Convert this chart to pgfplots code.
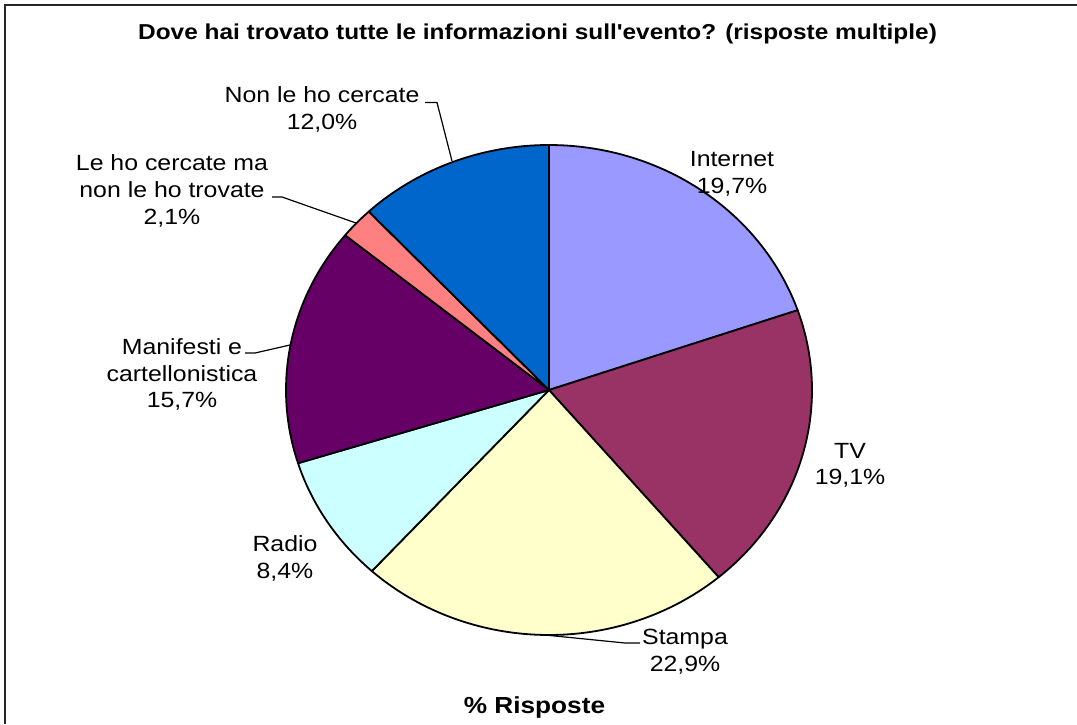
\documentclass[border=0pt]{standalone}
\usepackage{pgfplots}
\pgfplotsset{compat=1.18}
\usepackage{pgfplotstable}
\usepackage{fontspec}
\setmainfont{Liberation Sans}[FakeStretch=1.13, Ligatures=TeXOff]

\definecolor{cInternet}{HTML}{9999FF}
\definecolor{cTV}{HTML}{993366}
\definecolor{cStampa}{HTML}{FFFFCC}
\definecolor{cRadio}{HTML}{CCFFFF}
\definecolor{cManif}{HTML}{660066}
\definecolor{cCerc}{HTML}{FF8080}
\definecolor{cNon}{HTML}{0066CC}

\pgfplotstableread{
label value
Internet 19.7
TV 19.1
Stampa 22.9
Radio 8.4
Manifesti 15.7
CercateNonTrovate 2.1
NonCercate 12.0
}\piedata

\newcommand\slice[3]{%
  \addplot[draw=black, line width=0.9pt, line join=round, fill=#1,
    domain=#3:#2, samples=90, variable=\t]
    ({549+263*cos(t)},{390-245*sin(t)}) -- (axis cs:549,390) -- cycle;}

\newcommand\lbl[3]{\node[anchor=base, inner sep=0pt, font=\fontsize{11}{13}\selectfont] at (axis cs:#1,#2) {#3};}

\begin{document}%
\begin{tikzpicture}
\pgfplotstablegetelem{0}{value}\of\piedata \let\vA\pgfplotsretval
\pgfplotstablegetelem{1}{value}\of\piedata \let\vB\pgfplotsretval
\pgfplotstablegetelem{2}{value}\of\piedata \let\vC\pgfplotsretval
\pgfplotstablegetelem{3}{value}\of\piedata \let\vD\pgfplotsretval
\pgfplotstablegetelem{4}{value}\of\piedata \let\vE\pgfplotsretval
\pgfplotstablegetelem{5}{value}\of\piedata \let\vF\pgfplotsretval
\pgfplotstablegetelem{6}{value}\of\piedata \let\vG\pgfplotsretval
\pgfmathsetmacro\tot{\vA+\vB+\vC+\vD+\vE+\vF+\vG}
\pgfmathsetmacro\aA{90}
\pgfmathsetmacro\aB{\aA-\vA*360/\tot}
\pgfmathsetmacro\aC{\aB-\vB*360/\tot}
\pgfmathsetmacro\aD{\aC-\vC*360/\tot}
\pgfmathsetmacro\aE{\aD-\vD*360/\tot}
\pgfmathsetmacro\aF{\aE-\vE*360/\tot}
\pgfmathsetmacro\aG{\aF-\vF*360/\tot}
\pgfmathsetmacro\aH{\aG-\vG*360/\tot}
\begin{axis}[name=ax, scale only axis, width=538.5pt, height=362pt,
  xmin=0, xmax=1077, ymin=0, ymax=724, y dir=reverse, hide axis, clip=false]
\slice{cInternet}{\aA}{\aB}
\slice{cTV}{\aB}{\aC}
\slice{cStampa}{\aC}{\aD}
\slice{cRadio}{\aD}{\aE}
\slice{cManif}{\aE}{\aF}
\slice{cCerc}{\aF}{\aG}
\slice{cNon}{\aG}{\aH}

% frame
\draw[black!85, line width=0.8pt] (axis cs:5,724) -- (axis cs:5,5) -- (axis cs:1077,5);

% title
\node[anchor=base, inner sep=0pt, font=\bfseries\fontsize{10.8}{13}\selectfont] at (axis cs:537.5,39.5)
  {Dove hai trovato tutte le informazioni sull'evento? (risposte multiple)};
\node[anchor=base, inner sep=0pt, font=\bfseries\fontsize{11.6}{13}\selectfont] at (axis cs:534.5,713)
  {\% Risposte};

% leader lines
\draw[black, line width=0.6pt] (axis cs:425,102.5) -- (axis cs:437,102.5) -- (axis cs:452,161);
\draw[black, line width=0.6pt] (axis cs:272,197) -- (axis cs:282,197) -- (axis cs:356,223);
\draw[black, line width=0.6pt] (axis cs:245,353) -- (axis cs:255,353) -- (axis cs:290,345);
\draw[black, line width=0.6pt] (axis cs:545,635) -- (axis cs:625,643) -- (axis cs:640,643);

% labels
\lbl{322}{102}{Non le ho cercate}
\lbl{322}{129}{12,0\%}
\lbl{732}{166}{Internet}
\lbl{732}{193}{19,7\%}
\lbl{850}{458}{TV}
\lbl{850}{484}{19,1\%}
\lbl{685}{644}{Stampa}
\lbl{685}{671}{22,9\%}
\lbl{285}{551}{Radio}
\lbl{285}{578}{8,4\%}
\lbl{182}{354}{Manifesti e}
\lbl{182}{381}{cartellonistica}
\lbl{182}{407}{15,7\%}
\lbl{172}{170}{Le ho cercate ma}
\lbl{172}{197}{non le ho trovate}
\lbl{172}{224}{2,1\%}
\end{axis}
\pgfresetboundingbox
\path (ax.south west) rectangle (ax.north east);
\end{tikzpicture}%
\end{document}
